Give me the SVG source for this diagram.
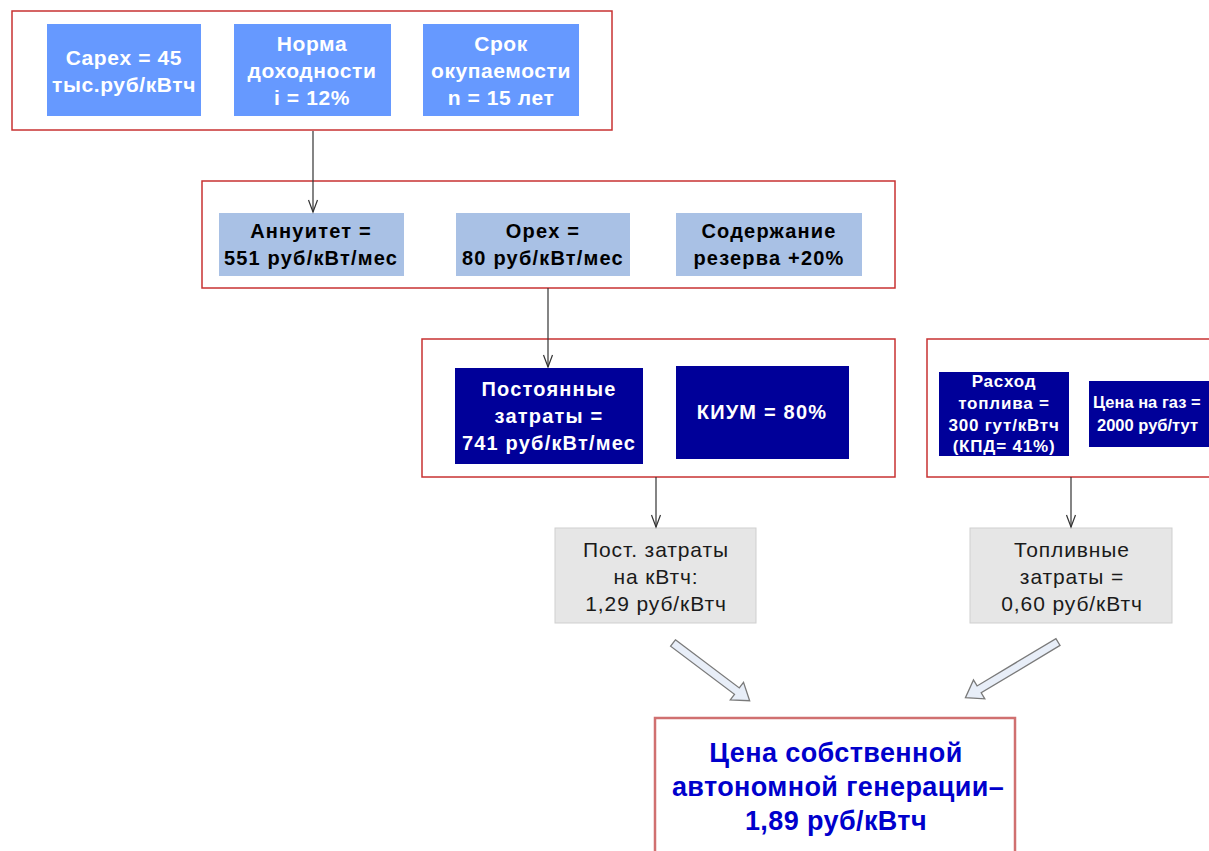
<svg xmlns="http://www.w3.org/2000/svg" width="1209" height="851" viewBox="0 0 1209 851">
<defs>
<style>
.frame{fill:#ffffff;stroke:#c83232;stroke-width:1.5}
.final{fill:#ffffff;stroke:#d07070;stroke-width:2.5}
.b1{fill:#6699ff}
.b2{fill:#a9c1e5}
.b3{fill:#000099}
.b4{fill:#e6e6e6;stroke:#cfcfcf;stroke-width:1}
.t{font-family:"Liberation Sans",Arial,sans-serif;text-anchor:middle}
.w{fill:#ffffff;font-weight:bold;font-size:21px;letter-spacing:0.6px}
.k{fill:#000000;font-weight:bold;font-size:20px;letter-spacing:1.2px}
.n{fill:#ffffff;font-weight:bold;font-size:20px;letter-spacing:1.2px}
.s{fill:#ffffff;font-weight:bold;font-size:17px;letter-spacing:0.8px}
.gz{fill:#ffffff;font-weight:bold;font-size:16.5px;letter-spacing:0;text-anchor:start}
.g{fill:#1a1a1a;font-size:21px;letter-spacing:0.9px}
.f{fill:#0000cc;font-weight:bold;font-size:27px;letter-spacing:0.4px}
.conn{stroke:#333333;stroke-width:1.2;fill:none}
.blk{fill:#e8eef8;stroke:#7a7a7a;stroke-width:1.3;stroke-linejoin:miter}
</style>
<marker id="v" markerUnits="userSpaceOnUse" markerWidth="16" markerHeight="14" viewBox="-14 -7 16 14" refX="0" refY="0" orient="auto">
<path d="M-12,-4.5 L0,0 L-12,4.5" fill="none" stroke="#333333" stroke-width="1.2"/>
</marker>
</defs>
<rect width="1209" height="851" fill="#ffffff"/>

<g id="frame1"><rect class="frame" x="12" y="11" width="600" height="119"/></g>
<g id="frame2"><rect class="frame" x="202" y="181" width="693" height="107"/></g>
<g id="frame3"><rect class="frame" x="422" y="339" width="473" height="138"/></g>
<g id="frame4"><rect class="frame" x="927" y="339" width="300" height="138"/></g>

<g id="capex"><rect class="b1" x="47" y="24" width="154" height="92"/>
<text class="t w"><tspan x="124" y="65">Capex = 45</tspan><tspan x="124" y="92">тыс.руб/кВтч</tspan></text></g>
<g id="norma"><rect class="b1" x="234" y="24" width="157" height="92"/>
<text class="t w"><tspan x="312" y="51">Норма</tspan><tspan x="312" y="78">доходности</tspan><tspan x="312" y="105">i = 12%</tspan></text></g>
<g id="srok"><rect class="b1" x="423" y="24" width="156" height="92"/>
<text class="t w"><tspan x="501" y="51">Срок</tspan><tspan x="501" y="78">окупаемости</tspan><tspan x="501" y="105">n = 15 лет</tspan></text></g>

<g id="annuitet"><rect class="b2" x="219" y="213" width="185" height="63"/>
<text class="t k"><tspan x="311" y="238">Аннуитет =</tspan><tspan x="311" y="265">551 руб/кВт/мес</tspan></text></g>
<g id="opex"><rect class="b2" x="456" y="213" width="174" height="63"/>
<text class="t k"><tspan x="543" y="238">Opex =</tspan><tspan x="543" y="265">80 руб/кВт/мес</tspan></text></g>
<g id="rezerv"><rect class="b2" x="676" y="213" width="186" height="63"/>
<text class="t k"><tspan x="769" y="238">Содержание</tspan><tspan x="769" y="265">резерва +20%</tspan></text></g>

<g id="postoyannye"><rect class="b3" x="455" y="368" width="188" height="96"/>
<text class="t n"><tspan x="549" y="396">Постоянные</tspan><tspan x="549" y="423">затраты =</tspan><tspan x="549" y="450">741 руб/кВт/мес</tspan></text></g>
<g id="kium"><rect class="b3" x="676" y="366" width="173" height="93"/>
<text class="t n"><tspan x="762" y="419">КИУМ = 80%</tspan></text></g>

<g id="raskhod"><rect class="b3" x="939" y="372" width="130" height="84"/>
<text class="t s"><tspan x="1004" y="387">Расход</tspan><tspan x="1004" y="409">топлива =</tspan><tspan x="1004" y="431">300 гут/кВтч</tspan><tspan x="1004" y="452">(КПД= 41%)</tspan></text></g>
<g id="gaz"><rect class="b3" x="1089" y="381" width="140" height="66"/>
<text class="t gz"><tspan x="1093" y="408">Цена на газ =</tspan><tspan x="1097" y="431">2000 руб/тут</tspan></text></g>

<g id="post_kwh"><rect class="b4" x="555" y="528" width="201" height="95"/>
<text class="t g"><tspan x="656" y="557">Пост. затраты</tspan><tspan x="656" y="584">на кВтч:</tspan><tspan x="656" y="611">1,29 руб/кВтч</tspan></text></g>
<g id="fuel_kwh"><rect class="b4" x="970" y="528" width="202" height="95"/>
<text class="t g"><tspan x="1072" y="557">Топливные</tspan><tspan x="1072" y="584">затраты =</tspan><tspan x="1072" y="611">0,60 руб/кВтч</tspan></text></g>

<g id="result"><rect class="final" x="655" y="718" width="360" height="150"/>
<text class="t f"><tspan x="836" y="762">Цена собственной</tspan><tspan x="838" y="796">автономной генерации–</tspan><tspan x="836" y="830">1,89 руб/кВтч</tspan></text></g>

<g id="connectors">
<line class="conn" x1="313" y1="131" x2="313" y2="212" marker-end="url(#v)"/>
<line class="conn" x1="548" y1="288" x2="548" y2="367" marker-end="url(#v)"/>
<line class="conn" x1="656" y1="477" x2="656" y2="527" marker-end="url(#v)"/>
<line class="conn" x1="1071" y1="477" x2="1071" y2="527" marker-end="url(#v)"/>
<polygon class="blk" transform="translate(673,643) rotate(37)" points="0,-4 80,-4 80,-11 96,0 80,11 80,4 0,4"/>
<polygon class="blk" transform="translate(1058,642) rotate(149)" points="0,-4 92,-4 92,-11 108,0 92,11 92,4 0,4"/>
</g>
</svg>
